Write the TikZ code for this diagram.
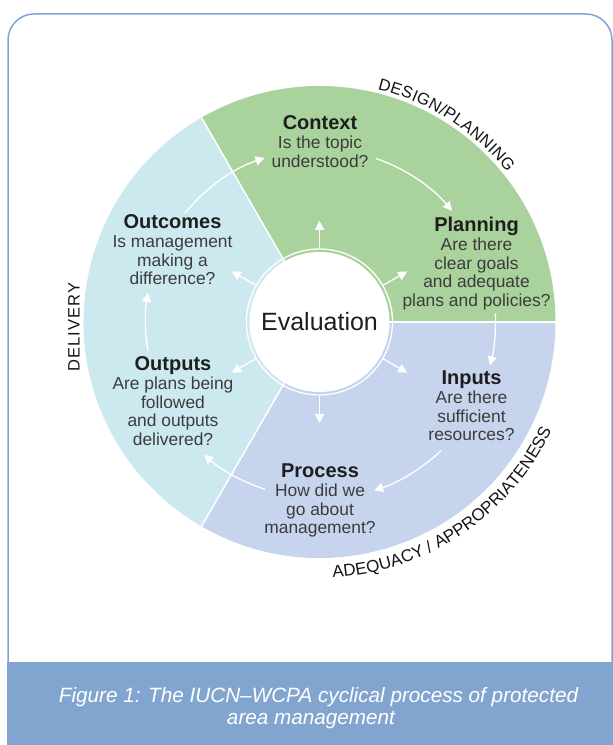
\documentclass[tikz,border=0pt]{standalone}
\usepackage{fontspec}
\setmainfont{Liberation Sans}
\usetikzlibrary{arrows.meta,decorations.text}

\definecolor{planGreen}{HTML}{AAD29C}
\definecolor{delivBlue}{HTML}{CDE9F0}
\definecolor{adeqBlue}{HTML}{C6D4EE}
\definecolor{frameBlue}{HTML}{7FA4D3}
\definecolor{bandBlue}{HTML}{82A5CF}
\definecolor{bodyGrey}{HTML}{3C3C3C}
\definecolor{titleInk}{HTML}{1E1E1E}
\definecolor{ringInk}{HTML}{151515}

\newcommand\bodyfont{\fontsize{17.4}{18.6}\selectfont}
\newcommand\titlefont{\fontsize{20}{18.6}\selectfont\bfseries\color{titleInk}}
\newcommand\ringfont{\fontsize{16.5}{16.5}\selectfont}
\newcommand\rimfont{\fontsize{17}{17}\selectfont}
\newcommand\stagetext[2]{\begin{tabular}[t]{@{}c@{}}\titlefont #1\\#2\end{tabular}}

\tikzset{
  stage/.style={inner sep=0pt, anchor=base, font=\bodyfont, text=bodyGrey},
  flow/.style={draw=white, line width=1.3pt, -{Triangle[length=9pt,width=9pt]}},
  divider/.style={draw=white, line width=1.5pt},
  caption/.style={inner sep=0pt, anchor=base, text=white,
    font=\fontsize{20.7}{22}\selectfont\itshape},
}

\begin{document}
\begin{tikzpicture}[x=1pt,y=1pt]
\useasboundingbox (0,0) rectangle (613,745);

% outer frame and caption band
\fill[bandBlue] (7.25,0) rectangle (613,83);
\draw[frameBlue, line width=1.5pt, rounded corners=26pt]
  (8,83) -- (8,731) -- (612,731) -- (612,83);

% centre of the cycle
\coordinate (C) at (319.5,423);

% three coloured sectors
\fill[planGreen] (C) -- ++(0:236) arc[start angle=0, end angle=120, radius=236] -- cycle;
\fill[delivBlue] (C) -- ++(120:236) arc[start angle=120, end angle=240, radius=236] -- cycle;
\fill[adeqBlue] (C) -- ++(240:236) arc[start angle=240, end angle=360, radius=236] -- cycle;
\draw[divider] (C) -- ++(0:236);
\draw[divider] (C) -- ++(120:236);
\draw[divider] (C) -- ++(240:236);

% evaluation hub
\node[circle, fill=white, minimum size=140pt, inner sep=0pt,
      font=\fontsize{25}{25}\selectfont, text=titleInk] (eval) at (C) {Evaluation};
\draw[white, line width=1.3pt] (eval.center) circle[radius=73];

% stages of the cycle
\node[stage] (context)  at (320,615)   {\stagetext{Context}{Is the topic\\understood?}};
\node[stage] (planning) at (476.5,513) {\stagetext{Planning}{Are there\\clear goals\\and adequate\\plans and policies?}};
\node[stage] (inputs)   at (471.5,360) {\stagetext{Inputs}{Are there\\sufficient\\resources?}};
\node[stage] (process)  at (320,267)   {\stagetext{Process}{How did we\\go about\\management?}};
\node[stage] (outputs)  at (173,374)   {\stagetext{Outputs}{Are plans being\\followed\\and outputs\\delivered?}};
\node[stage] (outcomes) at (172.5,516) {\stagetext{Outcomes}{Is management\\making a\\difference?}};

% evaluation feeds every stage
\foreach \a in {90,30,330,270,210,150}
  \draw[flow, shorten <=3.5pt] (eval.\a) -- ++(\a:31);

% the cycle itself
\draw[flow] ([shift={(141:173)}]eval.center) arc[start angle=141, end angle=108.5, radius=173];
\draw[flow] ([shift={(71:173)}]eval.center) arc[start angle=71, end angle=40, radius=173];
\draw[flow] ([shift={(2.8:176)}]eval.center) arc[start angle=2.8, end angle=-14.3, radius=176];
\draw[flow] ([shift={(-46.6:177)}]eval.center) arc[start angle=-46.6, end angle=-72, radius=177];
\draw[flow] ([shift={(252:176)}]eval.center) arc[start angle=252, end angle=229, radius=176];
\draw[flow] ([shift={(189.5:174)}]eval.center) arc[start angle=189.5, end angle=170.4, radius=174];

% phase labels round the rim
\path[decorate, decoration={text along path, text align={fit to path},
    text={|\ringfont\color{ringInk}|DESIGN/PLANNING}}]
  ([shift={(76:240)}]eval.center) arc[start angle=76, end angle=38.5, radius=240];
\path[decorate, decoration={text along path, text align={fit to path},
    text={|\rimfont\color{ringInk}|ADEQUACY / APPROPRIATENESS}}]
  ([shift={(-87:256)}]eval.center) arc[start angle=-87, end angle=-25, radius=256];
\node[rotate=90, inner sep=0pt, text=ringInk,
      font=\ringfont\addfontfeature{LetterSpace=7}] (delivery) at (74,418) {DELIVERY};

% caption
\node[caption] (cap1) at (318.5,42) {Figure 1: The IUCN–WCPA cyclical process of protected};
\node[caption] (cap2) at (311,20) {area management};
\end{tikzpicture}
\end{document}
